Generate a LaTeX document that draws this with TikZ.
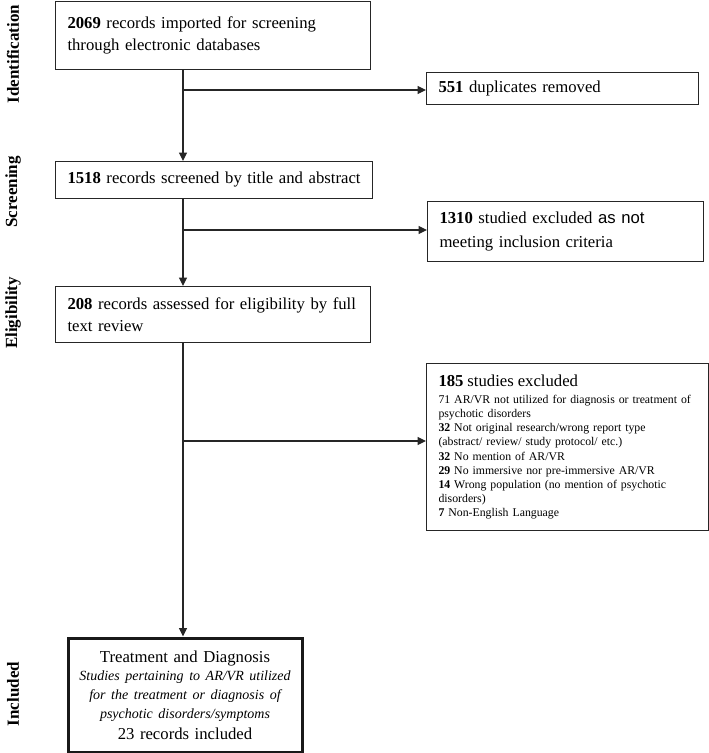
\documentclass[tikz,border=0pt]{standalone}
\usepackage{fontspec}
\setmainfont{Liberation Serif}
\setsansfont{Liberation Sans}
\usetikzlibrary{arrows.meta}
\begin{document}
\begin{tikzpicture}[x=1pt,y=-1pt,
  box/.style={draw=black!85, line width=1pt, anchor=north west, inner xsep=12pt, inner ysep=2pt,
    align=left, font=\fontsize{16.7}{22}\selectfont},
  exbox/.style={box, font=\fontsize{11.8}{14.1}\selectfont},
  finalbox/.style={draw=black!90, line width=3pt, anchor=north west, inner sep=0pt, align=center},
  flow/.style={draw=black!85, line width=1.2pt},
  arr/.style={flow, -{Triangle[length=8.5pt,width=8pt]}},
  phase/.style={rotate=90, font=\fontsize{17}{20}\selectfont\bfseries, inner sep=0pt}
]
\useasboundingbox (0,0) rectangle (709,753);

% phase labels
\node[phase] (lid) at (13,54) {Identification};
\node[phase] (lsc) at (13,192) {Screening};
\node[phase] (lel) at (13,313) {Eligibility};
\node[phase] (lin) at (13,694) {Included};

% main boxes
\node[box, minimum width=315pt, minimum height=68pt, text width=291pt] (b1) at (55,1)
  {\mbox{{\bfseries 2069} records imported for screening}\\\mbox{through electronic databases}};
\node[box, minimum width=317pt, minimum height=37pt, text width=293pt] (b2) at (55,161)
  {\mbox{{\bfseries 1518} records screened by title and abstract}};
\node[box, minimum width=315pt, minimum height=56pt, text width=291pt] (b3) at (55,286)
  {\mbox{{\bfseries 208} records assessed for eligibility by full}\\\mbox{text review}};

% exclusion boxes
\node[box, minimum width=272pt, minimum height=32pt, text width=248pt] (e1) at (426,72)
  {\mbox{{\bfseries 551} duplicates removed}};
\node[box, minimum width=276pt, minimum height=60pt, text width=252pt, font=\fontsize{16.7}{24}\selectfont] (e2) at (427,201)
  {\mbox{{\bfseries 1310} studied excluded {\sffamily as not}}\\\mbox{meeting inclusion criteria}};
\node[exbox, minimum width=282pt, minimum height=167pt, text width=258pt] (e3) at (426,363)
  {\mbox{\fontsize{16.7}{20}\selectfont{\bfseries 185} studies excluded}\\[3pt]
   \mbox{71 AR/VR not utilized for diagnosis or treatment of}\\
   \mbox{psychotic disorders}\\
   \mbox{{\bfseries 32} Not original research/wrong report type}\\
   \mbox{(abstract/ review/ study protocol/ etc.)}\\
   \mbox{{\bfseries 32} No mention of AR/VR}\\
   \mbox{{\bfseries 29} No immersive nor pre-immersive AR/VR}\\
   \mbox{{\bfseries 14} Wrong population (no mention of psychotic}\\
   \mbox{disorders)}\\
   \mbox{{\bfseries 7} Non-English Language}};

% included box
\node[finalbox, minimum width=234pt, minimum height=114pt, text width=234pt,
      font=\fontsize{16.7}{18.8}\selectfont] (f) at (66.5,636.5)
  {Treatment and Diagnosis\\
   {\fontsize{14}{18.8}\selectfont\itshape Studies pertaining to AR/VR utilized}\\
   {\fontsize{14}{18.8}\selectfont\itshape for the treatment or diagnosis of}\\
   {\fontsize{14}{18.8}\selectfont\itshape psychotic disorders/symptoms}\\[2pt]
   23 records included};

% junctions
\coordinate (j1) at (183,90);
\coordinate (j2) at (183,230);
\coordinate (j3) at (183,441);

% connectors
\draw[arr] (b1.south -| j1) -- (b2.north -| j1);
\draw[arr] (j1) -- (j1 -| e1.west);
\draw[arr] (b2.south -| j2) -- (b3.north -| j2);
\draw[arr] (j2) -- (j2 -| e2.west);
\draw[arr] (b3.south -| j3) -- (f.north -| j3);
\draw[arr] (j3) -- (j3 -| e3.west);
\end{tikzpicture}
\end{document}
